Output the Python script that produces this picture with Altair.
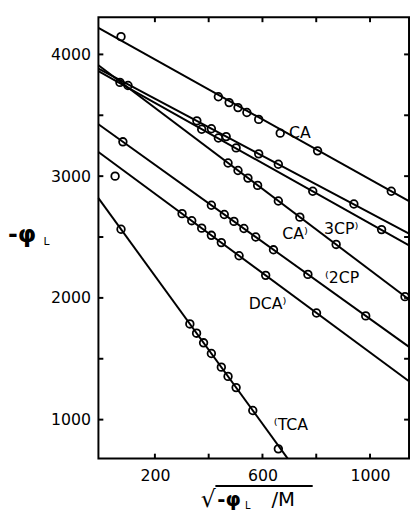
import altair as alt
import pandas as pd

# ---- fitted lines (endpoints) ----
line_names = ["A", "B", "3CP", "CA", "2CP", "DCA", "TCA"]
line_x0 = [-10, -10, -10, -10, -10, -10, -10]
line_y0 = [4218, 3883, 3863, 3911, 3426, 3199, 2819]
line_x1 = [1145, 1145, 1145, 1145, 1145, 1145, 694]
line_y1 = [2795, 2528, 2431, 1987, 1598, 1315, 680]

# ---- measured points ----
a_x = [74, 436, 476, 509, 542, 586, 666, 805, 1079]
a_y = [4146, 3652, 3604, 3563, 3523, 3466, 3353, 3208, 2876]

b_x = [100, 356, 410, 465, 586, 659, 940]
b_y = [3745, 3454, 3389, 3325, 3183, 3098, 2771]

cp3_x = [374, 436, 502, 787, 1043]
cp3_y = [3385, 3313, 3232, 2876, 2561]

ca_x = [70, 472, 509, 546, 582, 659, 739, 874, 1130]
ca_y = [3770, 3108, 3046, 2984, 2924, 2796, 2663, 2439, 2010]

cp2_x = [81, 410, 458, 494, 531, 575, 641, 769, 984]
cp2_y = [3282, 2761, 2685, 2628, 2570, 2500, 2395, 2193, 1852]

dca_x = [52, 301, 337, 374, 410, 447, 513, 612, 801]
dca_y = [3000, 2692, 2634, 2573, 2514, 2454, 2346, 2185, 1876]

tca_x = [74, 330, 355, 381, 410, 447, 472, 502, 564, 659]
tca_y = [2564, 1786, 1710, 1631, 1543, 1431, 1355, 1263, 1075, 760]

# ---- curve labels ----
lab_text = ["CA", "CA\u207e", "3CP\u207e", "\u207d2CP", "DCA\u207e", "\u207dTCA"]
lab_x = [739, 721, 893, 896, 619, 706]
lab_y = [3353, 2528, 2569, 2164, 1946, 952]

# ---- axes ----
x_domain = [-10, 1145]
y_domain = [680, 4305]
x_labels = [200, 600, 1000]
y_labels = [1000, 2000, 3000, 4000]
x_ticks = [200, 400, 600, 800, 1000]
y_ticks = [1000, 1500, 2000, 2500, 3000, 3500, 4000]

W, H = 316, 449
FONT = "DejaVu Sans"

lines_df = pd.DataFrame({"name": line_names, "x0": line_x0, "y0": line_y0,
                         "x1": line_x1, "y1": line_y1})
pts = []
for nm, xs_, ys_ in [("A", a_x, a_y), ("B", b_x, b_y), ("3CP", cp3_x, cp3_y),
                     ("CA", ca_x, ca_y), ("2CP", cp2_x, cp2_y),
                     ("DCA", dca_x, dca_y), ("TCA", tca_x, tca_y)]:
    for xv, yv in zip(xs_, ys_):
        pts.append({"series": nm, "x": xv, "y": yv})
pts_df = pd.DataFrame(pts)
lab_df = pd.DataFrame({"t": lab_text, "x": lab_x, "y": lab_y})

xs = alt.Scale(domain=x_domain, nice=False, zero=False)
ys = alt.Scale(domain=y_domain, nice=False, zero=False)

x_axis = alt.Axis(values=x_labels, ticks=False, domain=False, grid=False, format="d",
                  labelFont=FONT, labelFontSize=16, labelColor="black",
                  labelPadding=9, title=None)
y_axis = alt.Axis(values=y_labels, ticks=False, domain=False, grid=False, format="d",
                  labelFont=FONT, labelFontSize=16, labelColor="black",
                  labelPadding=8, title=None)

lines = alt.Chart(lines_df).mark_rule(color="black", strokeWidth=2).encode(
    x=alt.X("x0:Q", scale=xs, axis=x_axis),
    y=alt.Y("y0:Q", scale=ys, axis=y_axis),
    x2="x1:Q", y2="y1:Q")

points = alt.Chart(pts_df).mark_point(shape="circle", filled=False, color="black",
                                      size=60, strokeWidth=1.8, opacity=1).encode(
    x=alt.X("x:Q", scale=xs), y=alt.Y("y:Q", scale=ys))

labels = alt.Chart(lab_df).mark_text(font=FONT, fontSize=16, color="black",
                                     align="center", baseline="middle").encode(
    x=alt.X("x:Q", scale=xs), y=alt.Y("y:Q", scale=ys), text="t:N")

ytick_df = pd.DataFrame({"v": y_ticks})
xtick_df = pd.DataFrame({"v": x_ticks})
yt_left = alt.Chart(ytick_df).mark_rule(color="black", strokeWidth=2).encode(
    y=alt.Y("v:Q", scale=ys), x=alt.value(0), x2=alt.value(5))
yt_right = alt.Chart(ytick_df).mark_rule(color="black", strokeWidth=2).encode(
    y=alt.Y("v:Q", scale=ys), x=alt.value(W - 5), x2=alt.value(W))
xt_bot = alt.Chart(xtick_df).mark_rule(color="black", strokeWidth=2).encode(
    x=alt.X("v:Q", scale=xs), y=alt.value(H - 5), y2=alt.value(H))
xt_top = alt.Chart(xtick_df).mark_rule(color="black", strokeWidth=2).encode(
    x=alt.X("v:Q", scale=xs), y=alt.value(0), y2=alt.value(5))

one = pd.DataFrame({"k": [0]})
def txt(s, x, y, size, align="left", weight="normal"):
    return alt.Chart(one).mark_text(text=s, font=FONT, fontSize=size, color="black",
                                    align=align, baseline="alphabetic",
                                    fontWeight=weight).encode(
        x=alt.value(x), y=alt.value(y))

ytitle = txt("-\u03c6", -92, 229, 24, weight="bold") + txt("L", -56, 232, 11)
xtitle = (txt("\u221a", 104, 498, 24) + txt("-\u03c6", 121, 497, 20, weight="bold")
          + txt("L", 149, 500, 10) + txt("/M", 176, 497, 20)
          + alt.Chart(one).mark_rule(color="black", strokeWidth=2).encode(
              x=alt.value(119), x2=alt.value(218), y=alt.value(477)))

chart = alt.layer(lines, points, labels, yt_left, yt_right, xt_bot, xt_top,
                  ytitle, xtitle).properties(
    width=W, height=H,
    autosize=alt.AutoSizeParams(type="none"),
    padding={"left": 92, "top": 5, "right": 1, "bottom": 55},
    background="white",
).configure_view(stroke="black", strokeWidth=2)

chart.save("out.html", embed_options={"renderer": "svg", "actions": False})
